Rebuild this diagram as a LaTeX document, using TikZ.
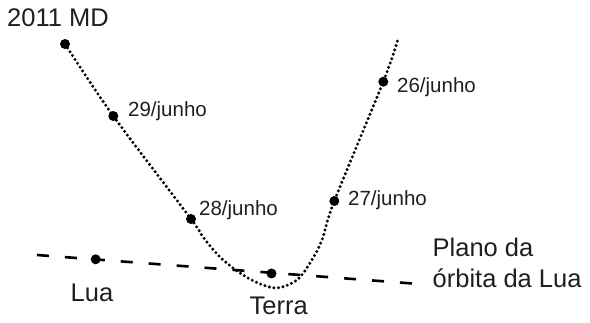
\documentclass[tikz,border=0pt]{standalone}
\usepackage{fontspec}
\setmainfont{Liberation Sans}
\usetikzlibrary{positioning}

\begin{document}
\begin{tikzpicture}[x=1pt, y=-1pt]
    % Styles
    \tikzstyle{body} = [circle, fill=black, inner sep=0pt, minimum size=10pt]
    \tikzstyle{datelabel} = [anchor=base west, inner sep=0pt, text=black!88, font=\fontsize{20.5}{24}\selectfont]
    \tikzstyle{biglabel} = [anchor=base west, inner sep=0pt, text=black!88, font=\fontsize{25.5}{31}\selectfont, align=left]
    \tikzstyle{orbit} = [line width=3.3pt, dash pattern=on 0pt off 4.6pt, line cap=round]
    \tikzstyle{plane} = [line width=2.6pt, dash pattern=on 12pt off 16pt]

    \useasboundingbox (0,0) rectangle (590,323);

    % Plane of the Moon's orbit
    \coordinate (pstart) at (37,255);
    \coordinate (pend) at (423,284.3);
    \draw [plane] (pstart) -- (pend);

    % Path of the asteroid
    \draw [orbit] plot [smooth, tension=0.55] coordinates {(65,44) (113.3,116) (191,219) (203,237) (220,257) (240,273) (258,283) (277,288) (297,280) (310,263) (322,240) (334.3,201) (383.3,81.7) (398,39)};

    % Bodies
    \node [body] (md) at (65,44) {};
    \node [body] (j29) at (113.3,116) {};
    \node [body] (j28) at (191,219) {};
    \node [body] (j27) at (334.3,201) {};
    \node [body] (j26) at (383.3,81.7) {};
    \node [body] (lua) at (95.7,259.3) {};
    \node [body] (terra) at (271.5,273.5) {};

    % Labels
    \node [biglabel] (mdlabel) at (7,26.7) {2011 MD};
    \node [datelabel] (j29label) at (128,117) {29/junho};
    \node [datelabel] (j28label) at (199,215.5) {28/junho};
    \node [datelabel] (j27label) at (348,206) {27/junho};
    \node [datelabel] (j26label) at (397,93) {26/junho};
    \node [biglabel] (lualabel) at (70.5,301.7) {Lua};
    \node [biglabel] (terralabel) at (249.5,315) {Terra};
    \node [biglabel] (planelabel) at (432.5,288) {Plano da\\órbita da Lua};
\end{tikzpicture}
\end{document}
